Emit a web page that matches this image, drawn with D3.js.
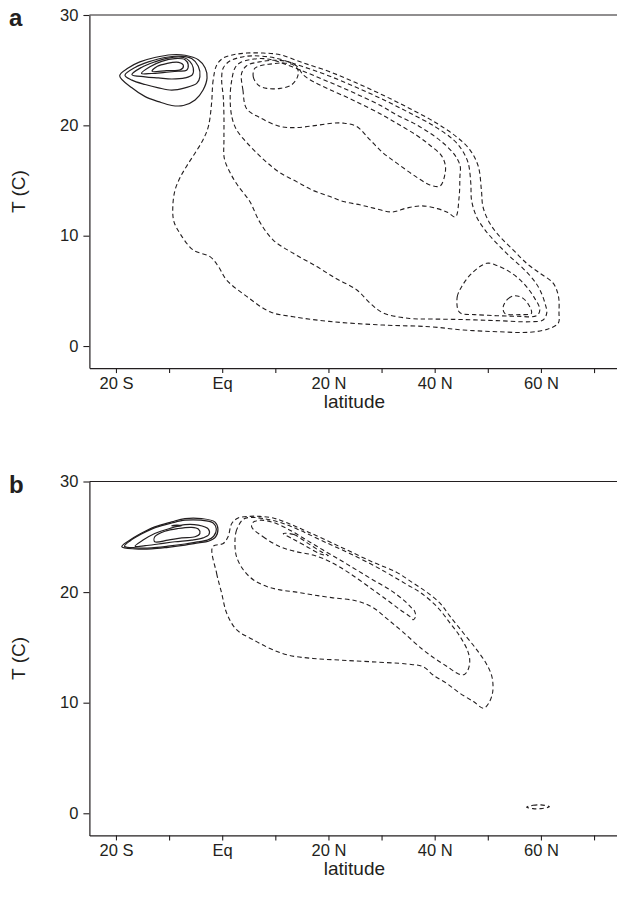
<!DOCTYPE html>
<html>
<head>
<meta charset="utf-8">
<script src="https://cdn.jsdelivr.net/npm/d3@7"></script>
<style>
  html, body { margin: 0; padding: 0; background: #fff; }
  svg { display: block; }
  text { font-family: "Liberation Sans", Arial, Helvetica, sans-serif; fill: #231f20; }
</style>
</head>
<body>
<svg id="chart" width="617" height="907"></svg>
<script>
// ---------------- data ----------------
const latTicks = [-20, -10, 0, 10, 20, 30, 40, 50, 60, 70];
const latLabelValues = [-20, 0, 20, 40, 60];
const latLabelTexts = ["20 S", "Eq", "20 N", "40 N", "60 N"];
const tempTicks = [0, 10, 20, 30];
const latDomain = [-25, 75];
const tempDomain = [-2, 30];

// panel a : solid contours  [latitude, temperature]
const aSolid1 = [[-19.3,24.5],[-17.7,25.2],[-15.5,25.75],[-12.7,26.15],[-9.5,26.4],[-7.0,26.35],[-4.5,25.95],[-3.2,25.2],[-2.85,24.3],[-3.6,23.2],[-5.1,22.3],[-7.3,21.8],[-9.5,21.8],[-12.0,22.15],[-14.5,22.6],[-17.0,23.4]];
const aSolid2 = [[-18.3,24.55],[-16.4,25.25],[-13.9,25.75],[-10.8,26.15],[-7.6,26.25],[-5.75,26.05],[-4.5,25.35],[-4.2,24.4],[-4.8,23.8],[-7.0,23.4],[-9.5,23.2],[-12.0,23.4],[-14.5,23.7],[-17.0,24.1]];
const aSolid3 = [[-17.0,24.6],[-15.2,25.25],[-12.7,25.75],[-10.2,26.1],[-7.3,26.15],[-6.1,25.8],[-5.45,25.2],[-5.6,24.6],[-7.0,24.3],[-9.5,24.2],[-12.0,24.3],[-14.5,24.4]];
const aSolid4 = [[-15.2,24.7],[-13.6,25.3],[-11.4,25.8],[-8.9,26.05],[-7.0,25.95],[-6.4,25.5],[-6.7,25.0],[-8.3,24.9],[-10.8,24.8],[-13.3,24.7]];
const aSolid5 = [[-13.2,24.9],[-12.2,25.35],[-10.5,25.6],[-8.2,25.7],[-7.3,25.4],[-7.8,25.05],[-10.5,24.95]];

// panel a : dashed contours
const aDash1 = [[-1.0,25.5],[-1.7,24.1],[-2.0,22.0],[-2.6,19.9],[-3.6,18.7],[-5.1,17.5],[-6.7,16.3],[-8.0,15.2],[-8.9,14.1],[-9.3,12.6],[-9.1,11.3],[-7.95,10.2],[-5.45,8.7],[-2.3,8.1],[-0.7,7.2],[0.8,6.0],[4.6,4.5],[9.0,3.1],[13.4,2.65],[20.9,2.2],[30.3,1.9],[39.1,1.75],[45.4,1.45],[51.7,1.3],[57.9,1.25],[61.7,1.6],[63.3,2.1],[63.4,3.0],[63.3,4.5],[62.3,5.7],[59.8,6.6],[57.3,7.5],[54.8,8.7],[52.3,9.9],[50.4,11.1],[49.1,12.6],[48.8,14.1],[48.2,16.3],[46.6,17.8],[44,19.0],[40,20.3],[35,21.6],[30,22.8],[25,23.9],[20,24.9],[15,25.7],[10.9,26.4],[7.7,26.55],[4.6,26.55],[2.1,26.4],[0.2,26.1]];
const aDash2 = [[0.2,25.2],[-0.1,24.1],[0.2,22.6],[0.33,20.8],[0.33,18.7],[0.4,17.0],[1.5,15.7],[3.0,14.5],[5.2,13.1],[7.0,11.3],[9.6,9.6],[13.4,8.4],[17.8,7.2],[21.5,6.1],[25.3,5.1],[27.8,3.9],[30.3,3.0],[35.3,2.5],[39.1,2.45],[45.4,2.4],[51.7,2.3],[57.9,2.2],[60.4,2.36],[61.1,3.0],[60.75,3.9],[59.8,5.1],[58.6,6.0],[56.7,7.0],[54.2,8.1],[51.7,9.3],[49.5,10.5],[47.9,11.7],[46.95,13.2],[46.8,14.75],[46.3,16.6],[45.1,17.8],[43.5,18.7],[40,19.9],[35,21.2],[30,22.4],[25,23.5],[20,24.5],[15,25.35],[10,26.1],[5.8,26.3],[3.3,26.15],[1.5,25.85]];
const aDash3 = [[2.4,25.2],[1.8,24.1],[1.5,22.6],[1.8,20.8],[2.7,19.6],[4.5,18.5],[6.5,17.5],[8.5,16.6],[10.9,15.7],[14.0,14.9],[17.1,14.1],[20,13.6],[22.8,13.1],[25.9,12.8],[28.5,12.5],[32,12.15],[34.7,12.5],[37.5,12.7],[40.5,12.45],[42.5,12.1],[43.9,11.7],[44.6,13.5],[44.75,15.35],[44.8,16.3],[43.8,17.3],[41.6,18.4],[39.1,19.3],[36,20.2],[33,20.9],[30,21.75],[25,22.9],[20,23.95],[15,24.95],[10,25.85],[7.7,26.05],[5.2,25.95],[3.3,25.65]];
const aDash4 = [[3.65,24.7],[3.9,23.2],[4.6,21.5],[7.1,20.7],[10.9,19.9],[14.0,19.8],[17.8,20.0],[20.9,20.2],[22.8,20.2],[25.3,19.9],[27.8,18.7],[30.3,17.5],[32.8,16.6],[36.0,15.5],[39.1,14.6],[41.0,14.5],[41.9,15.5],[42.0,16.4],[41.2,17.3],[39.1,18.2],[36.6,19.1],[33.5,20.0],[30.3,20.9],[25,22.2],[20,23.3],[17,24.0],[15.2,24.6],[14.2,25.3],[12.5,25.75],[10,25.9],[7,25.75],[4.6,25.4]];
const aDash5 = [[6.1,25.15],[5.85,24.4],[6.8,23.65],[8.4,23.35],[10.9,23.35],[13.0,23.65],[14.1,24.3],[14.3,24.95],[13.5,25.45],[11.5,25.65],[9.0,25.55],[7.1,25.4]];
const aDash6 = [[44.4,3.26],[44.25,4.47],[45.1,5.4],[47.0,6.6],[49.8,7.5],[51.7,7.3],[54.2,6.7],[56.7,5.7],[58.6,4.5],[59.8,3.3],[59.2,2.75],[55.5,2.7],[51.7,2.75],[47.5,2.85],[45.0,2.95]];
const aDash7 = [[52.9,3.56],[53.85,4.3],[55.1,4.56],[56.7,4.3],[57.9,3.56],[58.2,2.96],[56.0,2.85],[53.2,2.96]];

// panel b : solid contours
const bSolid1 = [[-18.9,24.1],[-17.7,24.6],[-15.5,25.25],[-12.7,25.9],[-9.5,26.35],[-7.0,26.65],[-3.9,26.65],[-1.4,26.35],[-0.8,25.7],[-1.3,24.95],[-2.6,24.6],[-4.5,24.45],[-7.0,24.25],[-10.2,24.05],[-13.3,23.9],[-16.4,23.9]];
const bSolid2 = [[-18.4,24.15],[-17.3,24.65],[-15.2,25.25],[-12.5,25.85],[-9.5,26.25],[-7.0,26.5],[-4.0,26.5],[-1.7,26.25],[-1.1,25.7],[-1.6,25.05],[-2.8,24.7],[-4.5,24.55],[-7.0,24.35],[-10.2,24.15],[-13.3,24.0],[-16.2,24.0]];
const bSolid3 = [[-16.4,24.15],[-14.9,24.7],[-12.7,25.3],[-9.5,25.8],[-7.0,26.1],[-4.5,26.05],[-2.6,25.7],[-2.5,25.2],[-3.6,24.9],[-5.75,24.7],[-8.9,24.55],[-12.0,24.35],[-14.5,24.2]];
const bSolid4 = [[-12.7,24.55],[-12.7,25.0],[-10.8,25.5],[-8.3,25.75],[-5.75,25.85],[-4.5,25.7],[-4.2,25.3],[-5.1,25.0],[-7.6,24.9],[-10.2,24.7]];
const bSolid5 = [[-9.5,26.0],[-8.5,26.05],[-7.7,26.0],[-8.5,25.97]];

// panel b : dashed contours
const bDash1 = [[-1.8,24.1],[-1.05,21.7],[-0.1,19.9],[0.84,18.1],[2.7,16.6],[5.8,15.7],[9.0,14.9],[12.4,14.3],[17.1,14.0],[22.2,13.85],[28,13.7],[34.7,13.5],[37.85,13.25],[39.7,12.5],[42.25,11.75],[44.75,10.85],[47.3,10.1],[49.2,9.5],[50.1,9.9],[50.9,10.9],[50.8,12.3],[49.75,13.5],[47.9,14.8],[45.4,16.3],[42.9,17.8],[41,19.0],[38.5,20.0],[36.0,20.8],[32.8,21.8],[28.4,22.7],[22.2,24.1],[15.9,25.5],[12,26.3],[9.6,26.7],[7.1,26.85],[5.2,26.85],[3.0,26.7],[1.8,26.2],[1.1,25.0],[0.2,24.4]];
const bDash2 = [[4.0,26.6],[2.7,25.6],[2.4,24.4],[2.7,23.2],[4.0,22.0],[5.9,21.1],[8.4,20.5],[10.9,20.2],[14.0,20.0],[17.1,19.75],[20.6,19.5],[25.3,19.2],[28.4,18.6],[31,17.6],[34,16.4],[37.5,14.9],[40,14.0],[42.25,13.3],[44.5,12.6],[45.6,12.55],[46.3,13.0],[46.6,13.8],[46.2,14.7],[44.75,16.0],[42.9,17.2],[40.4,18.7],[37.2,20.0],[34.7,20.7],[29.7,22.1],[24.0,23.5],[19,24.6],[14.6,25.6],[10.9,26.3],[7.7,26.65],[5.5,26.75]];
const bDash3 = [[5.55,25.9],[7.7,25.0],[10.9,24.1],[14.0,23.65],[17.1,23.35],[20.3,22.75],[24.0,21.7],[28.4,20.2],[31.0,19.3],[33.5,18.4],[35.3,17.8],[36.0,17.5],[36.4,17.8],[36.2,18.3],[35.6,18.6],[34.1,19.3],[31.6,20.2],[28.4,21.1],[25.3,22.0],[22.2,22.9],[19.0,23.8],[15.9,24.7],[12.75,25.6],[9.6,26.3],[7.1,26.5],[5.8,26.3]];
const bDash4 = [[11.5,25.3],[13.5,25.2],[16,24.45],[18.8,23.6],[20,23.3],[18.5,23.45],[15.8,24.15],[13.3,24.8]];
const bDash5 = [[57.3,0.55],[58.5,0.72],[60,0.76],[61.6,0.6],[60,0.42],[58.5,0.42]];

// ---------------- drawing ----------------
const svg = d3.select("#chart");
const ink = "#231f20";
const fontFam = '"Liberation Sans", Arial, sans-serif';

const x = d3.scaleLinear().domain(latDomain).range([89.4, 620.6]);

const panels = [
  { letter: "a", solids: [aSolid1, aSolid2, aSolid3, aSolid4, aSolid5],
    dashes: [aDash1, aDash2, aDash3, aDash4, aDash5, aDash6, aDash7],
    yRange: [368.1, 15] },
  { letter: "b", solids: [bSolid1, bSolid2, bSolid3, bSolid4, bSolid5],
    dashes: [bDash1, bDash2, bDash3, bDash4, bDash5],
    yRange: [835.4, 481.5] }
];

panels.forEach(p => {
  const y = d3.scaleLinear().domain(tempDomain).range(p.yRange);
  const g = svg.append("g");
  const bottom = p.yRange[0], top = p.yRange[1];
  const left = x(latDomain[0]);

  const line = d3.line()
    .x(d => x(d[0])).y(d => y(d[1]))
    .curve(d3.curveCatmullRomClosed.alpha(0.5));

  // contours
  g.selectAll("path.dash").data(p.dashes).join("path")
    .attr("class", "dash")
    .attr("d", line)
    .attr("fill", "none")
    .attr("stroke", ink)
    .attr("stroke-width", 1.1)
    .attr("stroke-dasharray", "4.5,3");

  g.selectAll("path.solid").data(p.solids).join("path")
    .attr("class", "solid")
    .attr("d", line)
    .attr("fill", "none")
    .attr("stroke", ink)
    .attr("stroke-width", 1.2);

  // top border
  g.append("line")
    .attr("x1", left).attr("x2", 617)
    .attr("y1", top).attr("y2", top)
    .attr("stroke", ink).attr("stroke-width", 1.2);

  // left axis
  const yAxis = d3.axisLeft(y).tickValues(tempTicks).tickSize(6).tickSizeOuter(0).tickPadding(5);
  const ya = g.append("g").attr("transform", `translate(${left},0)`).call(yAxis);
  ya.select(".domain").attr("stroke", ink).attr("stroke-width", 1.2);
  ya.selectAll(".tick line").attr("stroke", ink).attr("stroke-width", 1.1);
  ya.selectAll(".tick text").attr("font-size", 16.5).attr("fill", ink)
    .style("font-family", fontFam);

  // bottom axis
  const labelMap = new Map(latLabelValues.map((v, i) => [v, latLabelTexts[i]]));
  const xAxis = d3.axisBottom(x).tickValues(latTicks)
    .tickFormat(d => labelMap.get(d) || "").tickSize(5).tickSizeOuter(0).tickPadding(4);
  const xa = g.append("g").attr("transform", `translate(0,${bottom})`).call(xAxis);
  xa.select(".domain").attr("stroke", ink).attr("stroke-width", 1.2);
  xa.selectAll(".tick line").attr("stroke", ink).attr("stroke-width", 1.1);
  xa.selectAll(".tick text").attr("font-size", 16.5).attr("fill", ink)
    .style("font-family", fontFam);

  // axis titles
  g.append("text")
    .attr("x", x(20) + 26).attr("y", bottom + 40)
    .attr("text-anchor", "middle").attr("font-size", 19)
    .text("latitude");
  g.append("text")
    .attr("transform", `translate(25,${(top + bottom) / 2}) rotate(-90)`)
    .attr("text-anchor", "middle").attr("font-size", 19)
    .text("T (C)");

  // panel letter
  g.append("text")
    .attr("x", 9).attr("y", top + 11)
    .attr("font-size", 24).attr("font-weight", "bold")
    .text(p.letter);
});
</script>
</body>
</html>
